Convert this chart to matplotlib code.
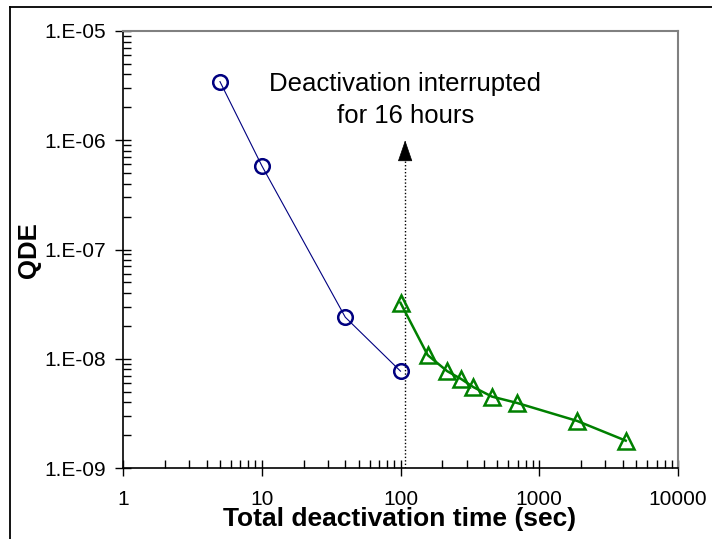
import matplotlib
matplotlib.use("Agg")
import matplotlib.pyplot as plt
from matplotlib.lines import Line2D

plt.rcParams['font.family'] = ['Liberation Sans', 'DejaVu Sans']

# data
time_before = [5, 10, 40, 100]
qde_before = [3.44e-6, 5.86e-7, 2.4e-8, 7.7e-9]

time_after = [100, 157, 217, 275, 335, 457, 687, 1870, 4200]
qde_after = [3.25e-8, 1.08e-8, 7.7e-9, 6.5e-9, 5.5e-9, 4.5e-9, 3.95e-9, 2.7e-9, 1.78e-9]

interrupt_time = 108
note_text = "Deactivation interrupted\nfor 16 hours"

x_ticks = [1, 10, 100, 1000, 10000]
x_tick_labels = ['1', '10', '100', '1000', '10000']
y_ticks = [1e-9, 1e-8, 1e-7, 1e-6, 1e-5]
y_tick_labels = ['1.E-09', '1.E-08', '1.E-07', '1.E-06', '1.E-05']

fig = plt.figure(figsize=(7.12, 5.39), dpi=100)
ax = fig.add_axes([123 / 712, 1 - 468 / 539, (678 - 123) / 712, (468 - 31) / 539])

# frame around the picture: only its top and left edges show in the original
fig.add_artist(Line2D([9.5 / 712, 9.5 / 712], [0, 1 - 6.5 / 539],
                      transform=fig.transFigure, color='black', linewidth=1.3))
fig.add_artist(Line2D([9.5 / 712, 1], [1 - 6.5 / 539, 1 - 6.5 / 539],
                      transform=fig.transFigure, color='black', linewidth=1.3))

ax.plot(time_before, qde_before, color='#000080', linewidth=0.8,
        marker='o', markersize=10.5, markerfacecolor='none',
        markeredgecolor='#000080', markeredgewidth=1.8, zorder=3)
ax.plot(time_after, qde_after, color='#008000', linewidth=1.8,
        marker='^', markersize=11, markerfacecolor='none',
        markeredgecolor='#008000', markeredgewidth=1.8, zorder=3)

# dotted line with arrow head
ax.plot([interrupt_time, interrupt_time], [1e-9, 6.8e-7], color='black',
        linestyle=(0, (1, 1.5)), linewidth=1, zorder=2)
ax.annotate('', xy=(interrupt_time, 1.0e-6), xytext=(interrupt_time, 6.7e-7),
            arrowprops=dict(arrowstyle='-|>,head_length=0.7,head_width=0.24',
                            mutation_scale=20, color='black', linewidth=0.5,
                            shrinkA=0, shrinkB=0))
ax.text(interrupt_time, 2.35e-6, note_text, ha='center', va='center',
        fontsize=18.5, linespacing=1.4)

ax.set_xscale('log')
ax.set_yscale('log')
ax.set_xlim(1, 10000)
ax.set_ylim(1e-9, 1e-5)
ax.set_xticks(x_ticks)
ax.set_xticklabels(x_tick_labels)
ax.set_yticks(y_ticks)
ax.set_yticklabels(y_tick_labels)

ax.tick_params(which='major', direction='inout', length=11, width=1,
               labelsize=15, colors='black')
ax.tick_params(which='minor', direction='in', length=5.5, width=1)
ax.tick_params(axis='y', which='major', pad=7)
ax.tick_params(axis='x', which='major', pad=10)

for side in ['top', 'right']:
    ax.spines[side].set_color('#808080')
    ax.spines[side].set_linewidth(1.5)
for side in ['left', 'bottom']:
    ax.spines[side].set_color('black')
    ax.spines[side].set_linewidth(1.2)

ax.set_xlabel('Total deactivation time (sec)', fontsize=19, fontweight='bold')
ax.set_ylabel('QDE', fontsize=18.5, fontweight='bold')
ax.xaxis.set_label_coords((400 - 123) / 555, -(507 - 468) / 437)
ax.yaxis.set_label_coords(-(123 - 41) / 555, (468 - 250) / 437)

fig.savefig('out.png', dpi=100)
